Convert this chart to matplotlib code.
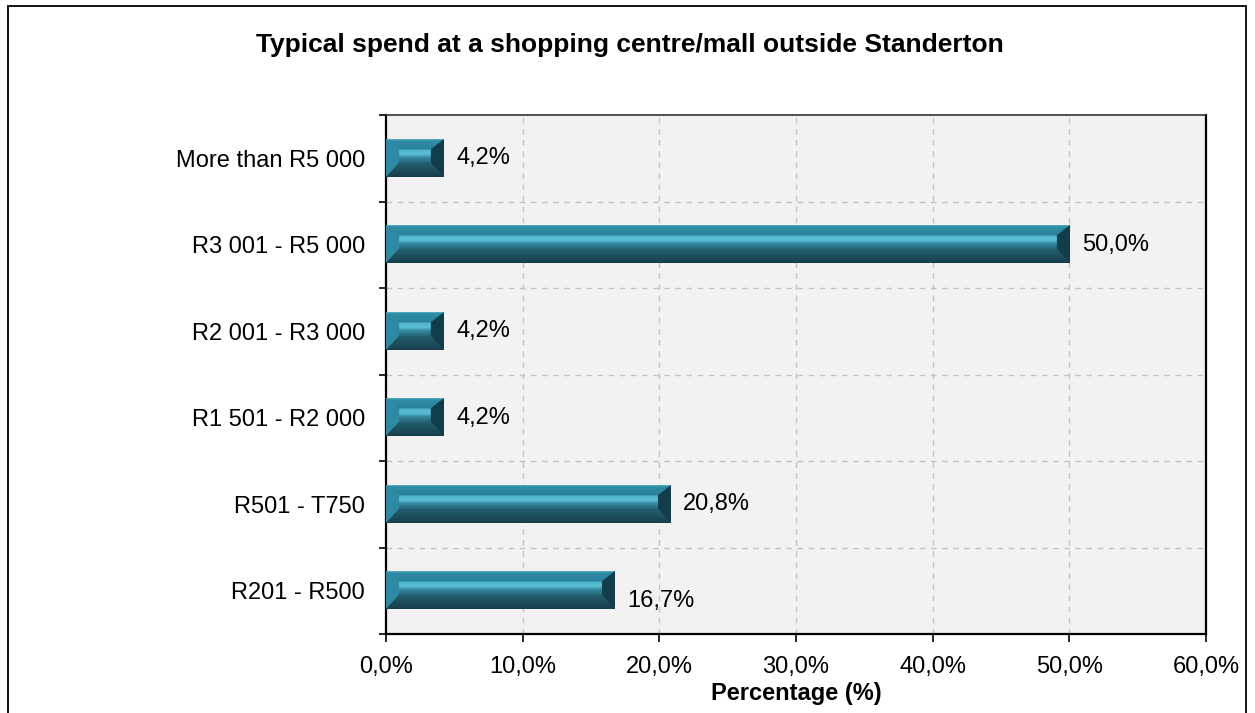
import numpy as np
import matplotlib
matplotlib.use("Agg")
import matplotlib.pyplot as plt
from matplotlib.patches import Rectangle
from matplotlib.colors import to_rgb
from matplotlib.ticker import FixedLocator

plt.rcParams["font.family"] = ["Liberation Sans", "DejaVu Sans"]

# Spending bands, listed from the bottom of the chart to the top
categories = ["R201 - R500", "R501 - T750", "R1 501 - R2 000",
              "R2 001 - R3 000", "R3 001 - R5 000", "More than R5 000"]
values = [16.7, 20.8, 4.2, 4.2, 50.0, 4.2]
value_labels = ["16,7%", "20,8%", "4,2%", "4,2%", "50,0%", "4,2%"]
x_ticks = [0, 10, 20, 30, 40, 50, 60]
x_tick_labels = ["0,0%", "10,0%", "20,0%", "30,0%", "40,0%", "50,0%", "60,0%"]

W, H, DPI = 1255, 713, 100
FS = 17
fig = plt.figure(figsize=(W / DPI, H / DPI), dpi=DPI)
fig.patch.set_facecolor("white")

# outer chart frame (open at the bottom edge of the canvas)
fig.add_artist(Rectangle((8 / W, -0.02), (1246 - 8) / W, 1.02 - 6 / H,
                         transform=fig.transFigure, fill=False,
                         edgecolor="black", linewidth=1.3))

ax_l, ax_r, ax_t, ax_b = 386, 1206, 115, 634
ax = fig.add_axes([ax_l / W, 1 - ax_b / H, (ax_r - ax_l) / W, (ax_b - ax_t) / H])
ax.set_facecolor("#f2f2f2")
ax.set_xlim(0, 60)
ax.set_ylim(-0.5, len(categories) - 0.5)

BAR_H = 0.43


def lerp_stops(stops, u):
    u = np.clip(u, 0, 1)
    pos = np.array([s[0] for s in stops])
    cols = np.array([to_rgb(s[1]) for s in stops])
    out = np.empty(u.shape + (3,))
    for c in range(3):
        out[..., c] = np.interp(u, pos, cols[:, c])
    return out


def bevel_image(wpx, hpx, ss=3):
    """RGB image of a bevelled bar, wpx x hpx pixels."""
    nx, ny = max(int(round(wpx * ss)), 2), max(int(round(hpx * ss)), 2)
    x = (np.arange(nx) + 0.5) / ss
    y = (np.arange(ny) + 0.5) / ss
    X, Y = np.meshgrid(x, y)
    side, top, bot = 13.0, 10.0, 14.0
    d = np.stack([X / side, (wpx - X) / side, Y / top, (hpx - Y) / bot])
    face = np.argmin(d, axis=0)
    inner = d.min(axis=0) >= 1

    inner_col = lerp_stops([(0, "#3f9db6"), (0.12, "#55b8d0"), (0.40, "#5abdd5"),
                            (0.58, "#3690a8"), (0.78, "#2d7a8f"), (1, "#28687a")],
                           (Y - top) / max(hpx - top - bot, 1))
    top_col = lerp_stops([(0, "#5fb8cc"), (0.15, "#2f8ea7"), (1, "#2a8199")], Y / top)
    bot_col = lerp_stops([(0, "#24606f"), (1, "#173e4b")], (Y - (hpx - bot)) / bot)
    left_col = np.broadcast_to(np.array(to_rgb("#2e8aa3")), X.shape + (3,))
    right_col = np.broadcast_to(np.array(to_rgb("#123d4a")), X.shape + (3,))

    img = np.where((face == 0)[..., None], left_col,
          np.where((face == 1)[..., None], right_col,
          np.where((face == 2)[..., None], top_col, bot_col)))
    img = np.where(inner[..., None], inner_col, img)
    return img


px_per_x = (ax_r - ax_l) / 60.0
px_per_y = (ax_b - ax_t) / len(categories)
for i, v in enumerate(values):
    img = bevel_image(v * px_per_x, BAR_H * px_per_y)
    ax.imshow(img, extent=[0, v, i - BAR_H / 2, i + BAR_H / 2], origin="upper",
              aspect="auto", interpolation="antialiased", zorder=3)

# value labels beside the bars
label_dy = [-0.12, 0, 0, 0, 0, 0]
for i, (v, lab) in enumerate(zip(values, value_labels)):
    ax.text(v + 13 / px_per_x, i + label_dy[i], lab, ha="left", va="center",
            fontsize=FS, color="black", zorder=4)

ax.set_xlim(0, 60)
ax.set_ylim(-0.5, len(categories) - 0.5)

# gridlines
for gx in x_ticks[1:-1]:
    ax.axvline(gx, color="#c4c4c4", linestyle=(0, (4, 4)), linewidth=1.0, zorder=1)
for gy in np.arange(0.5, len(categories) - 0.5, 1):
    ax.axhline(gy, color="#c4c4c4", linestyle=(0, (4, 4)), linewidth=1.0, zorder=1)

ax.set_xticks(x_ticks)
ax.set_xticklabels(x_tick_labels, fontsize=FS)
ax.tick_params(axis="x", direction="out", length=6, width=1.2, pad=10)

ax.set_yticks(range(len(categories)))
ax.set_yticklabels(categories, fontsize=FS)
ax.tick_params(axis="y", which="major", length=0, pad=15)
ax.yaxis.set_minor_locator(FixedLocator(np.arange(-0.5, len(categories), 1)))
ax.tick_params(axis="y", which="minor", direction="out", length=5, width=1.2)

for side in ["left", "bottom", "right"]:
    ax.spines[side].set_linewidth(1.6)
    ax.spines[side].set_color("black")
ax.spines["top"].set_linewidth(1.2)
ax.spines["top"].set_color("#333333")

ax.set_xlabel("Percentage (%)", fontsize=FS, fontweight="bold", labelpad=3)

fig.text(630 / W, 1 - 45 / H,
         "Typical spend at a shopping centre/mall outside Standerton",
         ha="center", va="center", fontsize=19, fontweight="bold")

fig.savefig("out.png", dpi=DPI)
